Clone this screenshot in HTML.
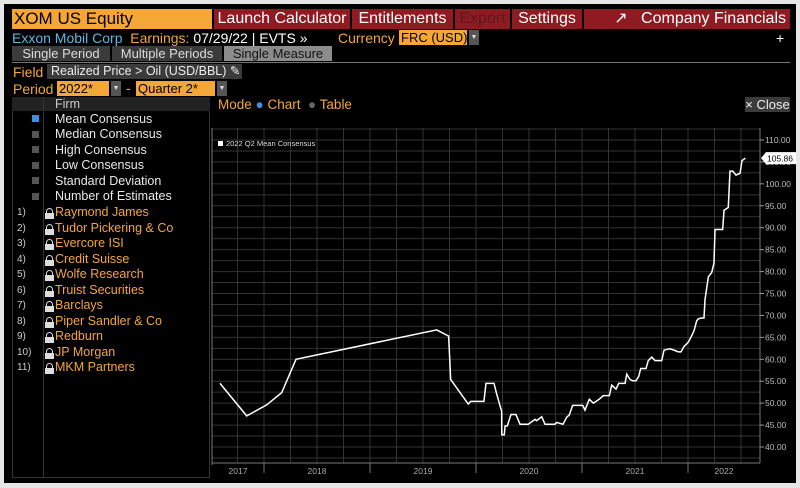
<!DOCTYPE html>
<html><head><meta charset="utf-8"><style>
body{margin:0;width:800px;height:488px;background:#e6e6e6;font-family:"Liberation Sans",sans-serif;overflow:hidden;position:relative}
#panel{position:absolute;left:4px;top:4px;width:792px;height:479px;background:#000}
.a{position:absolute;white-space:nowrap}
.btn{position:absolute;top:9px;height:20px;background:#8e1b22;color:#fff;font-size:16px;line-height:20px;text-align:center}
.or{color:#f4a637}.cy{color:#5cb8e6}.wh{color:#fff}
.tab{position:absolute;top:46px;height:15px;background:#3b3b3b;color:#ddd;font-size:13px;line-height:15px;text-align:center}
.row{position:absolute;left:55px;font-size:12.5px;color:#e8e8e8}
.firm{position:absolute;left:55px;font-size:12.5px;color:#f4a637}
.num{position:absolute;left:17px;font-size:10px;color:#ccc}
.box{position:absolute;left:32px;width:7px;height:7px;background:#555}
.lock{position:absolute;left:45px;width:9px;height:11px}
.lock:before{content:"";position:absolute;left:1px;top:0;width:5px;height:5px;border:1.5px solid #ddd;border-bottom:none;border-radius:4px 4px 0 0}
.lock:after{content:"";position:absolute;left:0;top:5px;width:9px;height:6px;background:#ddd}
</style></head><body>
<div id="panel"></div>
<div class="a" style="left:12px;top:9px;width:200px;height:20px;background:#f4a637;color:#000;font-size:17px;line-height:20px;padding-left:2px;box-sizing:border-box">XOM US Equity</div>
<div class="btn" style="left:214px;width:136px">Launch Calculator</div>
<div class="btn" style="left:352px;width:101px">Entitlements</div>
<div class="btn" style="left:455px;width:55px;color:#5a1a1e">Export</div>
<div class="btn" style="left:512px;width:70px">Settings</div>
<div class="btn" style="left:584px;width:206px;text-align:right;padding-right:4px;box-sizing:border-box">&#8599;&nbsp;&nbsp;&nbsp;Company Financials</div>
<div class="a" style="left:12px;top:30px;font-size:14px;line-height:16px"><span class="cy">Exxon Mobil Corp</span> <span class="or">&nbsp;Earnings:</span><span class="wh"> 07/29/22 | EVTS »</span></div>
<div class="a or" style="left:338px;top:30px;font-size:14px;line-height:16px">Currency</div>
<div class="a" style="left:399px;top:30px;width:68px;height:15px;background:#f4a637;color:#000;font-size:13px;line-height:15px;padding-left:2px;box-sizing:border-box">FRC (USD)</div>
<div class="a" style="left:469px;top:30px;width:10px;height:15px;background:#555;color:#ddd;font-size:7px;line-height:15px;text-align:center">▼</div>
<div class="a wh" style="left:776px;top:30px;font-size:14px">+</div>
<div class="tab" style="left:12px;width:98px">Single Period</div>
<div class="tab" style="left:112px;width:110px">Multiple Periods</div>
<div class="tab" style="left:224px;width:108px;background:#8c8c8c;color:#111">Single Measure</div>
<div class="a" style="left:12px;top:62px;width:778px;height:1px;background:#777"></div>
<div class="a or" style="left:13px;top:64px;font-size:14px">Field</div>
<div class="a" style="left:47px;top:64px;width:195px;height:15px;background:#3b3b3b;color:#eee;font-size:12.5px;line-height:15px;padding-left:4px;box-sizing:border-box">Realized Price &gt; Oil (USD/BBL) ✎</div>
<div class="a or" style="left:13px;top:81px;font-size:14px">Period</div>
<div class="a" style="left:57px;top:81px;width:52px;height:15px;background:#f4a637;color:#000;font-size:13px;line-height:15px;padding-left:2px;box-sizing:border-box">2022*</div>
<div class="a" style="left:111px;top:81px;width:10px;height:15px;background:#555;color:#ddd;font-size:7px;line-height:15px;text-align:center">▼</div>
<div class="a or" style="left:126px;top:80px;font-size:14px">-</div>
<div class="a" style="left:136px;top:81px;width:79px;height:15px;background:#f4a637;color:#000;font-size:13px;line-height:15px;padding-left:2px;box-sizing:border-box">Quarter 2*</div>
<div class="a" style="left:217px;top:81px;width:10px;height:15px;background:#555;color:#ddd;font-size:7px;line-height:15px;text-align:center">▼</div>
<!-- table -->
<div class="a" style="left:12px;top:97px;width:198px;height:381px;border:1px solid #333;box-sizing:border-box"></div>
<div class="a" style="left:12px;top:97px;width:198px;height:14px;background:#222"></div>
<div class="a" style="left:43px;top:97px;width:1px;height:381px;background:#333"></div>
<div class="a" style="left:55px;top:97px;font-size:12.5px;color:#ccc">Firm</div>
<div class="box" style="top:115px;background:#3f8fe0"></div><div class="row" style="top:112px">Mean Consensus</div>
<div class="box" style="top:131px"></div><div class="row" style="top:127px">Median Consensus</div>
<div class="box" style="top:146px"></div><div class="row" style="top:143px">High Consensus</div>
<div class="box" style="top:162px"></div><div class="row" style="top:158px">Low Consensus</div>
<div class="box" style="top:177px"></div><div class="row" style="top:174px">Standard Deviation</div>
<div class="box" style="top:193px"></div><div class="row" style="top:189px">Number of Estimates</div>
<div id="firms"></div>
<!-- mode -->
<div class="a" style="left:218px;top:97px;font-size:13.5px"><span class="or">Mode</span> <span style="color:#3f8fe0">●</span> <span class="or">Chart</span> &nbsp;<span style="color:#666">●</span> <span class="or">Table</span></div>
<div class="a" style="left:745px;top:97px;width:45px;height:15px;background:#3b3b3b;color:#eee;font-size:13px;line-height:15px;text-align:center">× Close</div>
<svg id="chart" class="a" style="left:0;top:0" width="800" height="488"></svg>
<script>
const firms=["Raymond James","Tudor Pickering & Co","Evercore ISI","Credit Suisse","Wolfe Research","Truist Securities","Barclays","Piper Sandler & Co","Redburn","JP Morgan","MKM Partners"];
const dates=[2017.585,2017.837,2018.025,2018.167,2018.302,2019.629,2019.742,2019.761,2019.927,2019.950,2020.075,2020.094,2020.170,2020.195,2020.242,2020.243,2020.267,2020.274,2020.295,2020.330,2020.377,2020.415,2020.493,2020.557,2020.572,2020.620,2020.651,2020.745,2020.761,2020.821,2020.856,2020.880,2020.912,2021.007,2021.028,2021.069,2021.107,2021.163,2021.201,2021.258,2021.280,2021.321,2021.346,2021.406,2021.422,2021.453,2021.478,2021.509,2021.535,2021.554,2021.604,2021.625,2021.658,2021.689,2021.752,2021.774,2021.830,2021.877,2021.908,2021.934,2021.962,2022.003,2022.025,2022.057,2022.082,2022.097,2022.123,2022.151,2022.160,2022.192,2022.224,2022.245,2022.255,2022.277,2022.327,2022.340,2022.380,2022.396,2022.422,2022.453,2022.491,2022.509,2022.541];
const values=[54.5,47.1,49.6,52.4,60.0,66.7,65.3,55.4,49.8,50.4,50.4,54.5,54.5,52.1,48.1,42.8,42.8,44.8,44.8,47.4,47.4,45.2,45.2,46.3,46.0,46.9,45.2,45.2,45.6,45.2,46.8,47.3,49.5,49.5,48.4,50.9,50.0,50.9,51.7,51.7,54.1,53.2,54.5,54.5,56.6,55.4,55.1,55.1,56.1,57.9,57.9,59.7,60.5,59.7,59.7,62.1,62.4,62.0,61.7,61.7,62.9,63.9,64.9,66.5,68.8,69.2,69.4,69.4,73.5,78.8,79.8,81.9,89.6,89.6,89.6,94.0,94.6,102.9,102.9,102.0,102.4,105.3,105.86];
const yTicks=[40,45,50,55,60,65,70,75,80,85,90,95,100,105,110];
const years=[2017,2018,2019,2020,2021,2022];
const lastLabel="105.86";
const fd=document.getElementById('firms');
firms.forEach((f,i)=>{const y=205+i*15.5;
 const n=document.createElement('div');n.className='num';n.style.top=(y+2)+'px';n.textContent=(i+1)+')';
 
 fd.appendChild(n);
 const l=document.createElement('div');l.className='lock';l.style.top=(y+3)+'px';
 
 fd.appendChild(l);
 const d=document.createElement('div');d.className='firm';d.style.top=y+'px';d.textContent=f;
 
 fd.appendChild(d);});
const ns='http://www.w3.org/2000/svg',svg=document.getElementById('chart');
const L=212,R=760,T=128,B=463;
const x=t=>264+(t-2018)*106;
const y=v=>140+(110-v)*(447-140)/70;
function mk(tag,at,name){const e=document.createElementNS(ns,tag);for(const k in at)e.setAttribute(k,at[k]);
 
 svg.appendChild(e);return e;}
for(let v=37.5;v<=112.5;v+=2.5){if(y(v)>=T&&y(v)<=B)mk('line',{x1:L,x2:R,y1:y(v),y2:y(v),stroke:'#333','stroke-width':1},'h-gridline');}
for(let t=2017.5;t<=2022.5;t+=0.25){if(x(t)>L&&x(t)<R)mk('line',{x1:x(t),x2:x(t),y1:T,y2:B,stroke:'#333','stroke-width':1},'v-gridline');}
mk('line',{x1:L,x2:L,y1:T,y2:B+2,stroke:'#777'},'chart-left-edge');
mk('line',{x1:L,x2:R,y1:B,y2:B,stroke:'#777'},'x-axis');
mk('line',{x1:R,x2:R,y1:T,y2:B,stroke:'#777'},'y-axis');
years.forEach(yr=>{const b=x(yr);if(b>L)mk('line',{x1:b,x2:b,y1:B,y2:B+10,stroke:'#777'},'year-tick');
 const c=Math.max(L,x(yr))/2+Math.min(R,x(yr+1))/2;
 const t=mk('text',{x:c,y:B+11,fill:'#aaa','font-size':8.5,'text-anchor':'middle','font-family':'Liberation Sans'},'x-tick-label');t.textContent=yr;});
yTicks.forEach(v=>{mk('line',{x1:R,x2:R+4,y1:y(v),y2:y(v),stroke:'#999'},'y-tick');
 const t=mk('text',{x:R+5,y:y(v)+3,fill:'#bbb','font-size':8.5,'font-family':'Liberation Sans'},'y-tick-label');t.textContent=v.toFixed(2);});
mk('polyline',{points:dates.map((d,i)=>x(d)+','+y(values[i])).join(' '),fill:'none',stroke:'#fff','stroke-width':1.5},'mean-consensus-line');
const ly=y(values[values.length-1]);
mk('path',{d:`M${R+1},${ly} l5,-6 h30 v12 h-30 z`,fill:'#fff'},'last-value-marker');
const lt=mk('text',{x:R+7,y:ly+3.5,fill:'#000','font-size':8.5,'font-family':'Liberation Sans'},'last-value-label');lt.textContent=lastLabel;
mk('rect',{x:218,y:141,width:5,height:5,fill:'#fff'},'legend-swatch');
const lg=mk('text',{x:226,y:146,fill:'#ddd','font-size':7.5,'font-family':'Liberation Sans'},'legend-entry');lg.textContent='2022 Q2 Mean Consensus';
</script>
</body></html>
